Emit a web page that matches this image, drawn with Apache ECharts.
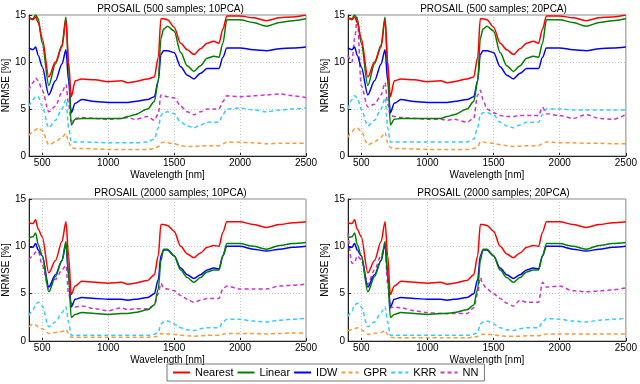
<!DOCTYPE html>
<html lang="en">
<head>
    <meta charset="UTF-8">
    <title>PROSAIL NRMSE</title>
    <script src="https://cdn.jsdelivr.net/npm/echarts@6/dist/echarts.min.js"></script>
    <style type="text/css">
        *{margin: 0;padding: 0;border: none}
        html,body{width: 640px;height: 384px;overflow: hidden;background: #fff}
        #main{width: 640px;height: 384px}
    </style>
</head>
<body>
<div id="main"></div>
<script type="text/javascript">
    // wavelengths [nm]
    var wl = [400,430,450,470,500,550,600,650,680,700,720,750,800,900,1000,1100,1150,1200,1300,1350,
              1380,1400,1420,1450,1500,1550,1600,1650,1700,1750,1800,1840,1870,1900,2000,2100,2200,2300,2400,2500];

    var titles = ['PROSAIL (500 samples; 10PCA)', 'PROSAIL (500 samples; 20PCA)',
                  'PROSAIL (2000 samples; 10PCA)', 'PROSAIL (2000 samples; 20PCA)'];
    var names = ['Nearest', 'Linear', 'IDW', 'GPR', 'KRR', 'NN'];
    var xTicks = [500, 1000, 1500, 2000, 2500];

    // 500 samples (Nearest / Linear / IDW do not depend on PCA)
    var near500 = [14.7,14.5,14.8,14.2,12.5,8.4,10.0,11.6,14.5,10.0,6.3,8.0,8.2,8.1,7.9,8.0,7.8,7.9,8.2,8.4,
                   10.5,14.6,14.6,14.5,13.7,12.0,11.3,10.8,11.4,12.0,12.2,12.0,13.5,14.9,14.9,14.7,14.4,14.7,14.8,15.0];
    var lin500  = [14.7,14.6,15.0,14.6,12.0,7.5,9.8,11.8,14.8,9.5,3.3,3.9,4.0,4.0,4.0,4.0,4.2,4.4,5.0,5.8,
                   8.0,12.5,13.5,13.8,13.3,11.0,9.6,9.0,9.6,10.4,10.6,10.5,12.0,14.5,14.5,14.2,13.8,14.2,14.4,14.6];
    var idw500  = [11.5,11.3,11.6,10.7,9.5,6.5,8.0,9.8,11.3,8.0,4.6,5.6,6.0,5.8,5.7,5.7,5.7,5.8,6.0,6.3,
                   8.0,10.8,11.2,11.2,11.0,9.5,8.6,8.2,8.8,9.3,9.3,9.3,10.5,11.5,11.5,11.3,11.2,11.4,11.5,11.6];
    var gpr500_10 = [2.2,2.6,2.8,3.0,2.7,1.2,1.5,2.0,2.4,1.5,0.9,0.8,0.8,0.75,0.7,0.7,0.7,0.7,0.7,0.8,
                     1.0,1.4,1.45,1.4,1.3,1.1,1.0,1.0,1.05,1.1,1.1,1.1,1.3,1.5,1.45,1.4,1.3,1.35,1.35,1.35];
    var krr500_10 = [5.3,6.0,6.3,6.3,5.3,3.0,3.8,5.0,6.0,3.0,1.5,1.5,1.5,1.45,1.4,1.4,1.4,1.4,1.5,1.8,
                     3.0,4.3,4.6,4.7,4.5,3.6,3.2,3.0,3.3,3.6,3.6,3.6,4.4,5.0,5.1,4.9,4.7,4.9,5.0,5.1];
    var nn500_10  = [7.0,7.8,8.3,8.0,7.0,4.7,5.3,6.8,7.6,5.5,3.7,4.0,4.1,4.0,3.9,4.0,4.1,3.9,4.2,3.8,
                     4.5,6.5,6.4,6.3,6.2,5.3,4.7,4.4,4.7,5.0,5.0,5.0,5.8,6.4,6.3,6.4,6.5,6.6,6.4,6.2];
    var gpr500_20 = [2.0,2.6,2.9,3.0,2.6,1.2,1.5,2.0,2.5,1.4,0.9,0.8,0.8,0.75,0.7,0.7,0.7,0.7,0.7,0.8,
                     1.0,1.5,1.5,1.4,1.35,1.2,1.1,1.0,1.05,1.1,1.1,1.1,1.3,1.5,1.4,1.4,1.35,1.35,1.3,1.3];
    var krr500_20 = [5.0,6.0,6.4,6.2,5.0,3.2,3.8,5.0,6.2,3.0,1.5,1.5,1.5,1.5,1.5,1.5,1.5,1.5,1.5,1.8,
                     3.0,4.4,4.6,4.6,4.4,3.6,3.2,3.0,3.3,3.6,3.6,3.6,4.4,5.0,5.0,4.9,4.9,4.9,4.9,4.9];
    var nn500_20  = [10.7,10.0,12.5,14.7,7.5,5.2,5.5,6.5,7.8,5.5,4.3,4.2,4.1,4.0,3.9,3.9,3.8,3.9,3.6,4.0,
                     6.5,7.0,6.0,5.0,4.6,4.3,4.2,4.2,4.3,4.3,4.3,4.3,5.2,4.5,4.3,4.0,4.4,4.0,3.9,4.4];

    // 2000 samples
    var near2000 = [12.5,12.4,12.8,11.8,11.0,7.2,8.5,10.5,12.6,9.0,4.9,5.8,6.3,6.2,6.1,6.2,6.0,6.1,6.4,7.0,
                    9.0,12.3,12.3,12.2,11.6,10.0,9.2,8.8,9.3,9.9,10.1,10.0,11.5,12.6,12.6,12.3,12.0,12.3,12.5,12.6];
    var lin2000  = [10.9,11.0,11.4,10.2,9.0,5.2,6.8,8.5,10.5,7.0,2.5,2.8,3.0,2.9,2.8,2.9,2.9,3.0,3.3,3.8,
                    5.5,8.5,9.7,9.7,9.0,7.5,6.7,6.2,6.7,7.3,7.5,7.5,9.0,10.3,10.3,10.0,9.7,10.1,10.3,10.4];
    var idw2000  = [9.9,9.9,10.3,9.6,9.0,5.7,7.0,8.5,10.2,7.0,3.6,4.4,4.6,4.5,4.4,4.4,4.3,4.4,4.6,5.0,
                    6.5,9.0,9.6,9.6,9.0,7.7,7.0,6.6,7.0,7.5,7.7,7.6,9.0,10.0,10.0,9.7,9.5,9.7,9.9,10.0];
    var gpr2000_10 = [1.5,1.8,1.7,1.5,1.3,0.8,0.9,1.0,1.2,0.8,0.4,0.4,0.4,0.4,0.4,0.4,0.4,0.4,0.4,0.45,
                      0.5,0.8,0.75,0.75,0.7,0.6,0.55,0.5,0.55,0.6,0.6,0.6,0.7,0.8,0.8,0.8,0.75,0.8,0.85,0.85];
    var krr2000_10 = [2.7,3.3,3.8,4.1,3.7,1.5,2.0,3.0,3.6,2.0,0.6,0.6,0.6,0.6,0.6,0.6,0.6,0.6,0.6,0.7,
                      0.9,1.8,2.0,2.1,1.8,1.4,1.2,1.1,1.3,1.4,1.4,1.4,2.0,2.3,2.3,2.1,2.0,2.2,2.3,2.4];
    var nn2000_10  = [8.6,9.0,9.4,9.5,8.0,5.5,6.5,7.5,8.0,5.0,4.0,3.6,3.7,3.4,3.2,3.5,3.3,3.4,3.4,3.8,
                      5.0,6.1,5.6,5.5,5.3,4.8,4.4,4.1,4.3,4.5,4.5,4.5,5.5,5.8,5.5,5.5,5.5,5.8,5.9,6.0];
    var gpr2000_20 = [1.1,1.2,1.3,1.4,1.2,0.7,0.8,0.9,1.1,0.7,0.4,0.35,0.35,0.35,0.35,0.35,0.35,0.35,0.35,0.4,
                      0.5,0.65,0.7,0.7,0.65,0.55,0.5,0.5,0.5,0.55,0.55,0.55,0.65,0.75,0.75,0.75,0.75,0.75,0.75,0.75];
    var krr2000_20 = [2.6,3.2,3.8,4.0,3.6,1.5,2.0,3.0,3.6,2.0,0.6,0.6,0.6,0.6,0.6,0.6,0.6,0.6,0.6,0.7,
                      0.9,1.8,2.0,2.1,1.8,1.4,1.2,1.1,1.3,1.4,1.4,1.4,2.0,2.4,2.3,2.1,2.0,2.2,2.3,2.4];
    var nn2000_20  = [11.4,8.2,8.3,9.0,8.6,6.0,7.5,9.0,10.0,6.0,3.5,3.6,3.5,3.2,3.0,2.9,2.9,2.9,2.9,3.5,
                      5.0,6.7,6.0,5.5,5.0,4.5,4.0,3.7,4.3,4.1,4.1,4.1,6.2,5.7,5.8,5.3,5.2,5.3,5.4,5.6];

    var panels = [
        [near500, lin500, idw500, gpr500_10, krr500_10, nn500_10],
        [near500, lin500, idw500, gpr500_20, krr500_20, nn500_20],
        [near2000, lin2000, idw2000, gpr2000_10, krr2000_10, nn2000_10],
        [near2000, lin2000, idw2000, gpr2000_20, krr2000_20, nn2000_20]
    ];
    var colors = ['#ff0000', '#008000', '#0000ff', '#ff9933', '#33ccff', '#cc33cc'];
    var dashed = [false, false, false, true, true, true];

    var font = 'Liberation Sans, Arial, sans-serif';
    var gridPos = [
        {left: 25, right: 334, top: 15, bottom: 228},
        {left: 348, right: 11, top: 15, bottom: 228},
        {left: 25, right: 334, top: 199, bottom: 43},
        {left: 348, right: 11, top: 199, bottom: 43}
    ];

    var grids = [], xAxes = [], yAxes = [], series = [], title = [];
    for (var g = 0; g < 4; g++) {
        var p = gridPos[g];
        grids.push({left: p.left, right: p.right, top: p.top, bottom: p.bottom,
                    show: true, borderColor: '#888', borderWidth: 1, backgroundColor: 'transparent'});
        var w = 640 - p.left - p.right;
        title.push({
            text: titles[g], left: p.left + w / 2, top: p.top - 16, textAlign: 'center',
            textStyle: {fontFamily: font, fontSize: 10, fontWeight: 'normal', color: '#000'}
        });
        xAxes.push({
            type: 'value', gridIndex: g, min: 400, max: 2500,
            name: 'Wavelength [nm]', nameLocation: 'middle', nameGap: 14,
            nameTextStyle: {fontFamily: font, fontSize: 10, color: '#000'},
            axisLine: {lineStyle: {color: '#222', width: 1}},
            axisTick: {show: true, inside: true, length: 3, customValues: xTicks, lineStyle: {color: '#222'}},
            axisLabel: {customValues: xTicks, fontFamily: font, fontSize: 10, color: '#000', margin: 2,
                        formatter: function (v) { return String(v); }},
            splitLine: {show: false}
        });
        yAxes.push({
            type: 'value', gridIndex: g, min: 0, max: 15, interval: 5,
            name: 'NRMSE [%]', nameLocation: 'middle', nameGap: 14,
            nameTextStyle: {fontFamily: font, fontSize: 10, color: '#000'},
            axisLine: {show: true, lineStyle: {color: '#222', width: 1}},
            axisTick: {show: true, inside: true, length: 3, lineStyle: {color: '#222'}},
            axisLabel: {fontFamily: font, fontSize: 10, color: '#000', margin: 3},
            splitLine: {show: true, lineStyle: {color: '#c8c8c8', type: [1, 2], width: 1}}
        });
        for (var s = 0; s < 6; s++) {
            var vals = panels[g][s];
            var pts = [];
            for (var i = 0; i < wl.length; i++) pts.push([wl[i], vals[i]]);
            var ser = {
                name: names[s], type: 'line', xAxisIndex: g, yAxisIndex: g,
                data: pts, symbol: 'none', smooth: 0.3, smoothMonotone: 'x', silent: true,
                lineStyle: {color: colors[s], width: 1.5, type: dashed[s] ? [4, 3] : 'solid'},
                itemStyle: {color: colors[s]},
                z: 10 - s
            };
            if (s === 0) {
                // vertical dotted grid lines at the labelled wavelengths
                ser.markLine = {
                    silent: true, symbol: 'none', label: {show: false},
                    lineStyle: {color: '#c8c8c8', type: [1, 2], width: 1},
                    data: xTicks.slice(0, 4).map(function (v) { return {xAxis: v}; }),
                    z: 1
                };
            }
            series.push(ser);
        }
    }

    var myChart = echarts.init(document.getElementById('main'));
    myChart.setOption({
        backgroundColor: '#fff',
        animation: false,
        title: title,
        grid: grids,
        xAxis: xAxes,
        yAxis: yAxes,
        legend: {
            data: names, left: 167, top: 364, orient: 'horizontal',
            padding: [3, 6, 3, 5], itemGap: 3, itemWidth: 17, itemHeight: 10,
            borderColor: '#777', borderWidth: 1,
            itemStyle: {opacity: 0},
            textStyle: {fontFamily: font, fontSize: 11, color: '#000'}
        },
        series: series
    });
</script>
</body>
</html>
